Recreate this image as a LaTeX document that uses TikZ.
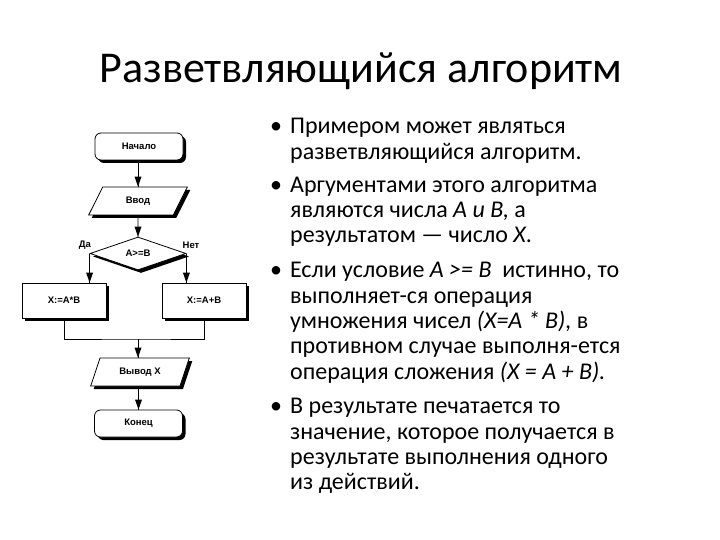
\documentclass[tikz,border=0pt]{standalone}
\usepackage{fontspec}
\setmainfont{Carlito}
\newfontfamily\chartfont{Liberation Sans}
\usetikzlibrary{arrows.meta,shapes.geometric,shadows}
\begin{document}
\begin{tikzpicture}[x=1pt,y=-1pt,
  lbl/.style={font=\chartfont\bfseries\fontsize{9.5}{11}\selectfont},
  body/.style={anchor=base west,inner sep=0pt,font=\fontsize{24}{26}\selectfont},
  ln/.style={line width=0.8pt},
  shd/.style={drop shadow={shadow xshift=3pt,shadow yshift=-3pt,fill=black,opacity=1}},
  fbox/.style={draw,line width=0.8pt,fill=white,inner sep=0pt,shd,lbl},
  term/.style={fbox,rounded corners=6pt,minimum width=88pt,minimum height=27pt},
  proc/.style={fbox,minimum width=84pt,minimum height=35pt},
  io/.style={fbox,trapezium,trapezium left angle=60,trapezium right angle=120,trapezium stretches=true,minimum width=99pt,minimum height=28pt},
  dec/.style={fbox,diamond,minimum width=96pt,minimum height=33pt}
]
\useasboundingbox[fill=white] (0,0) rectangle (720,540);

\node[font=\fontsize{44}{50}\selectfont,anchor=base,inner sep=0pt] (title) at (361,83) {Разветвляющийся алгоритм};

% flowchart
\node[term] (start) at (139,146.5) {Начало};
\node[io] (inp) at (138,201) {Ввод};
\node[dec] (cond) at (138,253.5) {A>=B};
\node[proc] (left) at (64,300.5) {X:=A*B};
\node[proc] (right) at (204,300.5) {X:=A+B};
\node[io] (outp) at (140,372) {Вывод X};
\node[term] (stop) at (138.5,423.5) {Конец};
\node[lbl] (yes) at (85,245) {Да};
\node[lbl] (no) at (191,245) {Нет};
\coordinate (merge) at (138,339);

\coordinate (e1) at (inp.north);
\coordinate (e2) at (cond.north);
\coordinate (e3) at (cond.west |- left.north);
\coordinate (e4) at (cond.east |- right.north);
\coordinate (e5) at (merge |- outp.north);
\coordinate (e6) at (stop.north);

\draw[ln] (start.south -| inp.north) -- (e1);
\draw[ln] (inp.south) -- (e2);
\draw[ln] (cond.west) -- (e3);
\draw[ln] (cond.east) -- (e4);
\draw[ln] (left.south) |- (merge) -| (right.south);
\draw[ln] (merge) -- (e5);
\draw[ln] (outp.south -| stop.north) -- (e6);
\foreach \e in {e1,e2,e3,e4,e5,e6}
  \fill (\e) -- ++(-3.5,-10) -- ++(7,0) -- cycle;

% bullets
\foreach \yy/\nm in {134/b1,193/b2,277/b3,413/b4}
  \node[body] (\nm) at (270,\yy) {•};

\node[body] (l1) at (290,134) {Примером может являться};
\node[body] (l2) at (290,160) {разветвляющийся алгоритм.};
\node[body] (l3) at (290,193) {Аргументами этого алгоритма};
\node[body] (l4) at (290,218) {являются числа \textit{A и B,} а};
\node[body] (l5) at (290,243) {результатом — число \textit{X}.};
\node[body] (l6) at (290,277) {Если условие \textit{A >= B}\ \ истинно, то};
\node[body] (l7) at (290,303) {выполняет-ся операция};
\node[body] (l8) at (290,328) {умножения чисел \textit{(X=A * B),} в};
\node[body] (l9) at (290,353) {противном случае выполня-ется};
\node[body] (l10) at (290,379) {операция сложения \textit{(X = A + B).}};
\node[body] (l11) at (290,413) {В результате печатается то};
\node[body] (l12) at (290,439) {значение, которое получается в};
\node[body] (l13) at (290,464) {результате выполнения одного};
\node[body] (l14) at (290,489) {из действий.};
\end{tikzpicture}
\end{document}
